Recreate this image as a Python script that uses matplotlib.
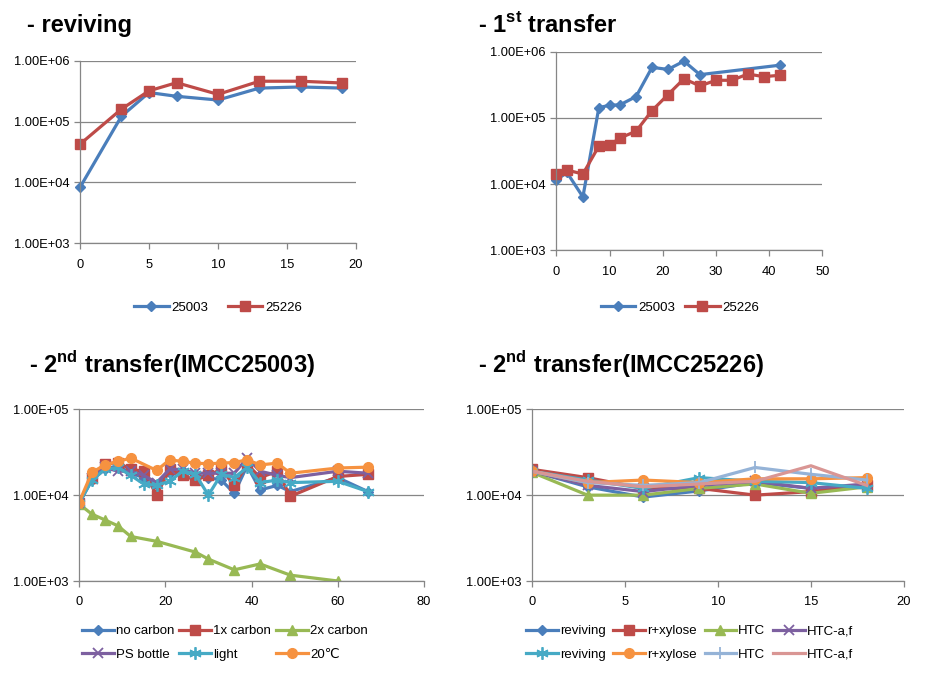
import matplotlib
matplotlib.use("Agg")
import matplotlib.pyplot as plt
from matplotlib.ticker import FuncFormatter, NullLocator

plt.rcParams['font.family'] = ['Liberation Sans', 'DejaVu Sans']
plt.rcParams['mathtext.fontset'] = 'custom'
plt.rcParams['mathtext.rm'] = 'Liberation Sans:bold'
plt.rcParams['mathtext.bf'] = 'Liberation Sans:bold'

# ---- reviving ----
rev_x = [0, 3, 5, 7, 10, 13, 16, 19]
rev_25003 = [8.3e3, 1.22e5, 3.0e5, 2.6e5, 2.26e5, 3.55e5, 3.7e5, 3.55e5]
rev_25226 = [4.25e4, 1.6e5, 3.2e5, 4.35e5, 2.8e5, 4.6e5, 4.6e5, 4.3e5]

# ---- 1st transfer ----
t1_x_25003 = [0, 2, 5, 8, 10, 12, 15, 18, 21, 24, 27, 42]
t1_25003 = [1.15e4, 1.5e4, 6.4e3, 1.43e5, 1.55e5, 1.58e5, 2.1e5, 5.8e5, 5.4e5, 7.2e5, 4.5e5, 6.25e5]
t1_x_25226 = [0, 2, 5, 8, 10, 12, 15, 18, 21, 24, 27, 30, 33, 36, 39, 42]
t1_25226 = [1.42e4, 1.63e4, 1.42e4, 3.75e4, 3.87e4, 4.98e4, 6.3e4, 1.29e5, 2.25e5, 3.9e5,
            3.04e5, 3.7e5, 3.7e5, 4.6e5, 4.2e5, 4.4e5]

# ---- 2nd transfer (IMCC25003) ----
t2a_x = [0, 3, 6, 9, 12, 15, 18, 21, 24, 27, 30, 33, 36, 39, 42, 46, 49, 60, 67]
no_carbon = [8e3, 1.5e4, 2.0e4, 2.2e4, 1.8e4, 1.6e4, 1.3e4, 1.8e4, 1.9e4, 1.7e4, 1.6e4,
             1.5e4, 1.05e4, 2.2e4, 1.15e4, 1.3e4, 1.1e4, 1.6e4, 1.1e4]
carbon_1x = [8e3, 1.6e4, 2.3e4, 2.4e4, 2.0e4, 1.9e4, 1.0e4, 2.0e4, 1.7e4, 1.5e4, 1.7e4,
             2.0e4, 1.3e4, 2.3e4, 1.6e4, 1.9e4, 0.97e4, 1.65e4, 1.75e4]
carbon_2x_x = [0, 3, 6, 9, 12, 18, 27, 30, 36, 42, 49, 60]
carbon_2x = [7.9e3, 6.0e3, 5.15e3, 4.4e3, 3.3e3, 2.9e3, 2.17e3, 1.8e3, 1.35e3, 1.58e3, 1.17e3, 1.0e3]
ps_bottle = [8e3, 1.6e4, 2.1e4, 1.9e4, 1.9e4, 1.7e4, 1.4e4, 2.0e4, 2.0e4, 1.8e4, 1.8e4,
             1.8e4, 1.8e4, 2.7e4, 1.9e4, 1.7e4, 1.6e4, 1.9e4, 1.8e4]
light = [8e3, 1.5e4, 2.0e4, 2.1e4, 1.7e4, 1.35e4, 1.3e4, 1.45e4, 1.9e4, 1.75e4, 1.0e4,
         1.75e4, 1.6e4, 2.1e4, 1.4e4, 1.5e4, 1.4e4, 1.45e4, 1.1e4]
c20_x = [0, 3, 6, 9, 12, 18, 21, 24, 27, 30, 33, 36, 39, 42, 46, 49, 60, 67]
c20 = [8.2e3, 1.84e4, 2.25e4, 2.47e4, 2.7e4, 1.94e4, 2.58e4, 2.47e4, 2.36e4, 2.32e4,
       2.36e4, 2.4e4, 2.58e4, 2.25e4, 2.36e4, 1.8e4, 2.07e4, 2.12e4]

# ---- 2nd transfer (IMCC25226) ----
t2b_x = [0, 3, 6, 9, 12, 15, 18]
b_reviving = [1.9e4, 1.25e4, 0.95e4, 1.12e4, 1.4e4, 1.2e4, 1.3e4]
b_xylose = [2.0e4, 1.6e4, 1.2e4, 1.2e4, 1.0e4, 1.1e4, 1.3e4]
b_htc = [1.85e4, 1.0e4, 1.0e4, 1.2e4, 1.35e4, 1.05e4, 1.25e4]
b_htc_af = [1.9e4, 1.3e4, 1.1e4, 1.3e4, 1.45e4, 1.2e4, 1.35e4]
b_reviving2 = [1.9e4, 1.5e4, 1.2e4, 1.6e4, 1.45e4, 1.4e4, 1.2e4]
b_xylose2 = [1.9e4, 1.4e4, 1.5e4, 1.4e4, 1.55e4, 1.55e4, 1.6e4]
b_htc2 = [1.9e4, 1.4e4, 1.3e4, 1.4e4, 2.1e4, 1.75e4, 1.5e4]
b_htc_af2 = [1.9e4, 1.45e4, 1.25e4, 1.35e4, 1.45e4, 2.2e4, 1.3e4]

BLUE = '#4a7ebb'
RED = '#be4b48'
GREEN = '#98b954'
PURPLE = '#7d60a0'
TEAL = '#46aac5'
ORANGE = '#f69240'
LBLUE = '#95b3d7'
PINK = '#d99694'
GRAY = '#868686'

fig = plt.figure(figsize=(9.27, 6.74), dpi=100)


def px_axes(left, top, right, bottom):
    W, H = 927, 674
    return fig.add_axes([left / W, 1 - bottom / H, (right - left) / W, (bottom - top) / H])


def style(ax, xmax, xstep, ymin, ymax):
    ax.set_yscale('log')
    ax.set_ylim(ymin, ymax)
    ax.set_xlim(0, xmax)
    ax.set_xticks(range(0, xmax + 1, xstep))
    ticks = []
    v = ymin
    while v <= ymax * 1.01:
        ticks.append(v)
        v *= 10
    ax.set_yticks(ticks)
    ax.yaxis.set_minor_locator(NullLocator())
    ax.yaxis.set_major_formatter(FuncFormatter(lambda v, p: f"{v:.2E}"))
    ax.grid(axis='y', color=GRAY, lw=0.9)
    ax.set_axisbelow(True)
    for s in ['top', 'right']:
        ax.spines[s].set_visible(False)
    for s in ['left', 'bottom']:
        ax.spines[s].set_color(GRAY)
        ax.spines[s].set_linewidth(0.9)
    ax.tick_params(colors=GRAY, labelcolor='black', labelsize=9.3, length=4, width=0.9)
    ax.tick_params(axis='x', pad=7)


lw = 2.3
lfs = 9.5

# reviving
ax1 = px_axes(80, 60.7, 356, 243.3)
ax1.plot(rev_x, rev_25003, color=BLUE, lw=lw, marker='D', ms=5, label='25003', clip_on=False)
ax1.plot(rev_x, rev_25226, color=RED, lw=lw, marker='s', ms=7, label='25226', clip_on=False)
style(ax1, 20, 5, 1e3, 1e6)
ax1.legend(loc='center', bbox_to_anchor=(0.5, -0.354), ncol=2, frameon=False, fontsize=lfs,
           handlelength=2.6, handletextpad=0.2, columnspacing=1.5)

# 1st transfer
ax2 = px_axes(556.3, 51.7, 822.3, 250.3)
ax2.plot(t1_x_25003, t1_25003, color=BLUE, lw=lw, marker='D', ms=5, label='25003', clip_on=False)
ax2.plot(t1_x_25226, t1_25226, color=RED, lw=lw, marker='s', ms=7, label='25226', clip_on=False)
style(ax2, 50, 10, 1e3, 1e6)
ax2.legend(loc='center', bbox_to_anchor=(0.465, -0.29), ncol=2, frameon=False, fontsize=lfs,
           handlelength=2.6, handletextpad=0.2, columnspacing=0.8)

# 2nd transfer IMCC25003
ax3 = px_axes(79, 409.3, 424, 581)
h1, = ax3.plot(t2a_x, no_carbon, color=BLUE, lw=lw, marker='D', ms=5, label='no carbon')
h2, = ax3.plot(t2a_x, carbon_1x, color=RED, lw=lw, marker='s', ms=7, label='1x carbon')
h3, = ax3.plot(carbon_2x_x, carbon_2x, color=GREEN, lw=lw, marker='^', ms=7, label='2x carbon')
h4, = ax3.plot(t2a_x, ps_bottle, color=PURPLE, lw=lw, marker='x', ms=7, mew=1.3, label='PS bottle')
h5, = ax3.plot(t2a_x, light, color=TEAL, lw=lw, marker=(6, 2, 0), ms=9, mew=1.3, label='light')
h6, = ax3.plot(c20_x, c20, color=ORANGE, lw=lw, marker='o', ms=7, label='20℃')
style(ax3, 80, 20, 1e3, 1e5)
ax3.legend([h1, h4, h2, h5, h3, h6], [h.get_label() for h in [h1, h4, h2, h5, h3, h6]],
           loc='center', bbox_to_anchor=(0.423, -0.361), ncol=3, frameon=False, fontsize=lfs,
           handlelength=2.4, handletextpad=0.15, columnspacing=0.4, labelspacing=0.85)

# 2nd transfer IMCC25226
ax4 = px_axes(531.7, 409.3, 904, 581)
g1, = ax4.plot(t2b_x, b_reviving, color=BLUE, lw=lw, marker='D', ms=5, label='reviving')
g2, = ax4.plot(t2b_x, b_xylose, color=RED, lw=lw, marker='s', ms=7, label='r+xylose')
g3, = ax4.plot(t2b_x, b_htc, color=GREEN, lw=lw, marker='^', ms=7, label='HTC')
g4, = ax4.plot(t2b_x, b_htc_af, color=PURPLE, lw=lw, marker='x', ms=7, mew=1.3, label='HTC-a,f')
g5, = ax4.plot(t2b_x, b_reviving2, color=TEAL, lw=lw, marker=(6, 2, 0), ms=9, mew=1.3, label='reviving')
g6, = ax4.plot(t2b_x, b_xylose2, color=ORANGE, lw=lw, marker='o', ms=7, label='r+xylose')
g7, = ax4.plot(t2b_x, b_htc2, color=LBLUE, lw=lw, marker='|', ms=9, mew=1.3, label='HTC')
g8, = ax4.plot(t2b_x, b_htc_af2, color=PINK, lw=lw, label='HTC-a,f')
style(ax4, 20, 5, 1e3, 1e5)
order = [g1, g5, g2, g6, g3, g7, g4, g8]
ax4.legend(order, [h.get_label() for h in order],
           loc='center', bbox_to_anchor=(0.424, -0.361), ncol=4, frameon=False, fontsize=lfs,
           handlelength=2.4, handletextpad=0.15, columnspacing=0.6, labelspacing=0.85)

# titles
tkw = dict(fontsize=17, fontweight='bold', va='baseline', ha='left')
fig.text(27 / 927, 1 - 32 / 674, '- reviving', **tkw)
fig.text(478 / 927, 1 - 32 / 674, r'- 1$^{\mathrm{st}}$ transfer', **tkw)
fig.text(29 / 927, 1 - 373 / 674, r'- 2$^{\mathrm{nd}}$ transfer(IMCC25003)', **tkw)
fig.text(478 / 927, 1 - 373 / 674, r'- 2$^{\mathrm{nd}}$ transfer(IMCC25226)', **tkw)

fig.savefig('out.png', dpi=100)
